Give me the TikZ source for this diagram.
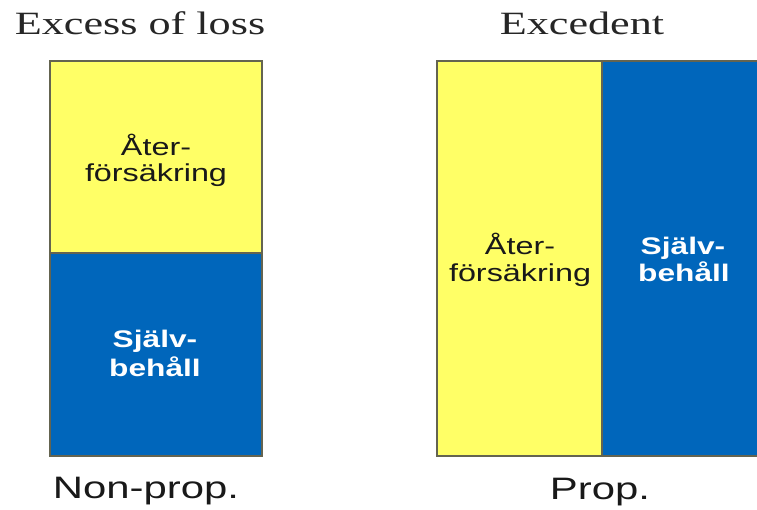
\documentclass[tikz,border=0pt]{standalone}
\usepackage{fontspec}
\setmainfont{Liberation Sans}
\newfontfamily\titlefont{Liberation Serif}
\definecolor{boxyellow}{RGB}{255,255,102}
\definecolor{boxblue}{RGB}{0,102,187}
\definecolor{edgegray}{RGB}{100,100,80}
\begin{document}
\begin{tikzpicture}[x=1pt,y=-1pt,
  part/.style={draw=edgegray,line width=1.3pt},
  ttl/.style={anchor=base,inner sep=0pt,font=\titlefont\fontsize{32.5}{36}\selectfont,text=black!85},
  captxt/.style={anchor=base,inner sep=0pt,font=\fontsize{31}{34}\selectfont,text=black!90},
  lbl/.style={anchor=base,inner sep=0pt,font=\fontsize{24.5}{27}\selectfont,text=black!90},
  wlbl/.style={anchor=base,inner sep=0pt,font=\bfseries\fontsize{24}{27}\selectfont,text=white}]
\useasboundingbox (0,0) rectangle (757,510);
\fill[white] (0,0) rectangle (757,510);
% left bar
\filldraw[part,fill=boxyellow] (50,61) rectangle (262,253);
\filldraw[part,fill=boxblue] (50,253) rectangle (262,456);
% right bar
\filldraw[part,fill=boxyellow] (437,61) rectangle (602,456);
\filldraw[part,fill=boxblue] (602,61) rectangle (762,456);
% titles
\node[ttl] (t1) at (140,35) {\scalebox{1.36}[1]{Excess of loss}};
\node[ttl] (t2) at (582,35) {\scalebox{1.36}[1]{Excedent}};
% bottom captions
\node[captxt] (c1) at (146,498) {\scalebox{1.35}[1]{Non-prop.}};
\node[captxt] (c2) at (600,499) {\scalebox{1.35}[1]{Prop.}};
% left labels
\node[lbl] (la1) at (156,156) {\scalebox{1.32}[1]{Åter-}};
\node[lbl] (la2) at (156,182) {\scalebox{1.32}[1]{försäkring}};
\node[wlbl] (ls1) at (155,347) {\scalebox{1.32}[1]{Själv-}};
\node[wlbl] (ls2) at (155,376) {\scalebox{1.32}[1]{behåll}};
% right labels
\node[lbl] (ra1) at (520,255) {\scalebox{1.32}[1]{Åter-}};
\node[lbl] (ra2) at (520,282) {\scalebox{1.32}[1]{försäkring}};
\node[wlbl] (rs1) at (683,255) {\scalebox{1.32}[1]{Själv-}};
\node[wlbl] (rs2) at (684,282) {\scalebox{1.32}[1]{behåll}};
\end{tikzpicture}
\end{document}
